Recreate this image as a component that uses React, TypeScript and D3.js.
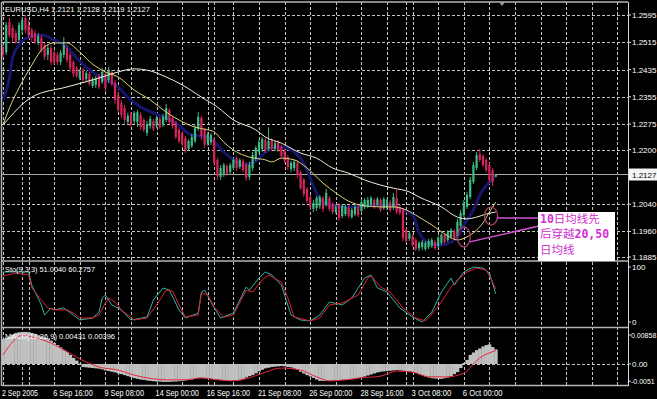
import React, { useEffect, useRef } from 'react';
import * as d3 from 'd3';

const W = 657;
const H = 399;

// EURUSD H4, one row per bar: open, high, low, close (2 Sep 2005 00:00 -> 7 Oct 2005 20:00)
const candles: number[][] = [
  [1.2498, 1.2507, 1.2469, 1.2478], [1.2486, 1.2574, 1.2478, 1.2566], [1.2574, 1.2586, 1.2528, 1.2536],
  [1.2557, 1.2566, 1.2516, 1.2528], [1.2542, 1.2551, 1.2510, 1.2516], [1.2522, 1.2574, 1.2516, 1.2566],
  [1.2551, 1.2589, 1.2536, 1.2580], [1.2586, 1.2595, 1.2542, 1.2551], [1.2566, 1.2580, 1.2528, 1.2536],
  [1.2551, 1.2557, 1.2516, 1.2528], [1.2542, 1.2551, 1.2510, 1.2516], [1.2516, 1.2542, 1.2507, 1.2533],
  [1.2528, 1.2536, 1.2486, 1.2492], [1.2507, 1.2513, 1.2463, 1.2472], [1.2478, 1.2507, 1.2463, 1.2498],
  [1.2498, 1.2507, 1.2448, 1.2457], [1.2484, 1.2492, 1.2451, 1.2457], [1.2478, 1.2486, 1.2448, 1.2457],
  [1.2457, 1.2492, 1.2448, 1.2484], [1.2478, 1.2530, 1.2469, 1.2507], [1.2498, 1.2507, 1.2454, 1.2463],
  [1.2478, 1.2486, 1.2428, 1.2440], [1.2457, 1.2463, 1.2413, 1.2422], [1.2440, 1.2445, 1.2410, 1.2416],
  [1.2410, 1.2437, 1.2404, 1.2431], [1.2434, 1.2440, 1.2396, 1.2404], [1.2407, 1.2431, 1.2401, 1.2425],
  [1.2422, 1.2428, 1.2387, 1.2393], [1.2387, 1.2413, 1.2381, 1.2407], [1.2390, 1.2416, 1.2381, 1.2410],
  [1.2416, 1.2422, 1.2378, 1.2384], [1.2398, 1.2440, 1.2393, 1.2428], [1.2422, 1.2428, 1.2369, 1.2381],
  [1.2404, 1.2442, 1.2396, 1.2431], [1.2428, 1.2434, 1.2387, 1.2393], [1.2396, 1.2404, 1.2334, 1.2346],
  [1.2360, 1.2369, 1.2310, 1.2316], [1.2337, 1.2346, 1.2293, 1.2302], [1.2322, 1.2331, 1.2275, 1.2287],
  [1.2281, 1.2308, 1.2275, 1.2299], [1.2305, 1.2310, 1.2266, 1.2272], [1.2284, 1.2313, 1.2275, 1.2308],
  [1.2281, 1.2316, 1.2266, 1.2310], [1.2302, 1.2310, 1.2258, 1.2266], [1.2287, 1.2293, 1.2252, 1.2258],
  [1.2249, 1.2284, 1.2240, 1.2275], [1.2269, 1.2299, 1.2261, 1.2290], [1.2284, 1.2290, 1.2255, 1.2261],
  [1.2269, 1.2299, 1.2263, 1.2293], [1.2290, 1.2296, 1.2261, 1.2266], [1.2272, 1.2305, 1.2266, 1.2296],
  [1.2287, 1.2334, 1.2281, 1.2322], [1.2316, 1.2322, 1.2275, 1.2281], [1.2293, 1.2299, 1.2261, 1.2269],
  [1.2278, 1.2284, 1.2231, 1.2237], [1.2258, 1.2263, 1.2219, 1.2225], [1.2246, 1.2252, 1.2211, 1.2217],
  [1.2234, 1.2240, 1.2190, 1.2199], [1.2202, 1.2231, 1.2196, 1.2225], [1.2211, 1.2246, 1.2205, 1.2237],
  [1.2225, 1.2272, 1.2219, 1.2263], [1.2261, 1.2310, 1.2255, 1.2296], [1.2293, 1.2299, 1.2228, 1.2240],
  [1.2258, 1.2263, 1.2205, 1.2214], [1.2217, 1.2252, 1.2211, 1.2246], [1.2222, 1.2249, 1.2214, 1.2243],
  [1.2228, 1.2237, 1.2152, 1.2161], [1.2170, 1.2175, 1.2111, 1.2123], [1.2120, 1.2155, 1.2111, 1.2146],
  [1.2129, 1.2161, 1.2120, 1.2155], [1.2152, 1.2158, 1.2123, 1.2129], [1.2134, 1.2161, 1.2126, 1.2155],
  [1.2146, 1.2175, 1.2140, 1.2170], [1.2175, 1.2181, 1.2137, 1.2146], [1.2149, 1.2175, 1.2143, 1.2170],
  [1.2167, 1.2173, 1.2134, 1.2140], [1.2155, 1.2164, 1.2108, 1.2117], [1.2120, 1.2164, 1.2111, 1.2155],
  [1.2146, 1.2193, 1.2137, 1.2184], [1.2175, 1.2211, 1.2167, 1.2205], [1.2193, 1.2231, 1.2187, 1.2222],
  [1.2202, 1.2237, 1.2193, 1.2231], [1.2228, 1.2234, 1.2190, 1.2199], [1.2202, 1.2266, 1.2196, 1.2225],
  [1.2225, 1.2234, 1.2196, 1.2202], [1.2202, 1.2225, 1.2196, 1.2219], [1.2222, 1.2228, 1.2193, 1.2199],
  [1.2208, 1.2214, 1.2175, 1.2181], [1.2196, 1.2202, 1.2161, 1.2167], [1.2178, 1.2184, 1.2140, 1.2149],
  [1.2143, 1.2167, 1.2134, 1.2161], [1.2146, 1.2170, 1.2137, 1.2164], [1.2161, 1.2167, 1.2117, 1.2126],
  [1.2134, 1.2140, 1.2082, 1.2087], [1.2111, 1.2117, 1.2061, 1.2070], [1.2085, 1.2090, 1.2043, 1.2049],
  [1.2061, 1.2067, 1.2023, 1.2032], [1.2026, 1.2052, 1.2017, 1.2043], [1.2029, 1.2064, 1.2020, 1.2058],
  [1.2035, 1.2067, 1.2026, 1.2061], [1.2058, 1.2064, 1.2017, 1.2026], [1.2038, 1.2085, 1.2032, 1.2073],
  [1.2058, 1.2064, 1.2020, 1.2026], [1.2041, 1.2046, 1.2011, 1.2017], [1.2017, 1.2038, 1.2011, 1.2032],
  [1.2038, 1.2043, 1.1991, 1.1999], [1.2005, 1.2041, 1.1999, 1.2035], [1.2011, 1.2038, 1.2005, 1.2032],
  [1.2029, 1.2035, 1.1999, 1.2005], [1.2002, 1.2029, 1.1997, 1.2023], [1.2011, 1.2038, 1.2005, 1.2032],
  [1.2032, 1.2038, 1.2002, 1.2008], [1.2020, 1.2052, 1.2014, 1.2046], [1.2032, 1.2058, 1.2026, 1.2052],
  [1.2035, 1.2061, 1.2029, 1.2052], [1.2038, 1.2064, 1.2032, 1.2058], [1.2052, 1.2058, 1.2026, 1.2032],
  [1.2038, 1.2061, 1.2032, 1.2055], [1.2052, 1.2058, 1.2017, 1.2023], [1.2029, 1.2061, 1.2023, 1.2055],
  [1.2029, 1.2058, 1.2023, 1.2052], [1.2046, 1.2052, 1.2017, 1.2023], [1.2032, 1.2073, 1.2023, 1.2061],
  [1.2058, 1.2082, 1.2011, 1.2017], [1.2032, 1.2038, 1.2008, 1.2014], [1.2023, 1.2029, 1.1932, 1.1941],
  [1.1964, 1.1970, 1.1926, 1.1932], [1.1938, 1.1961, 1.1932, 1.1955], [1.1947, 1.1952, 1.1914, 1.1920],
  [1.1935, 1.1941, 1.1903, 1.1908], [1.1911, 1.1932, 1.1903, 1.1926], [1.1914, 1.1935, 1.1906, 1.1929],
  [1.1908, 1.1932, 1.1903, 1.1926], [1.1914, 1.1938, 1.1908, 1.1932], [1.1917, 1.1941, 1.1911, 1.1935],
  [1.1929, 1.1935, 1.1906, 1.1911], [1.1917, 1.1947, 1.1911, 1.1941], [1.1926, 1.1955, 1.1920, 1.1950],
  [1.1950, 1.1955, 1.1923, 1.1929], [1.1935, 1.1964, 1.1929, 1.1958], [1.1944, 1.1970, 1.1938, 1.1964],
  [1.1961, 1.1967, 1.1935, 1.1941], [1.1947, 1.1997, 1.1941, 1.1988], [1.1976, 1.2023, 1.1970, 1.2014],
  [1.2008, 1.2052, 1.2002, 1.2043], [1.2032, 1.2076, 1.2026, 1.2067], [1.2061, 1.2120, 1.2055, 1.2111],
  [1.2105, 1.2164, 1.2099, 1.2155], [1.2146, 1.2193, 1.2140, 1.2184], [1.2187, 1.2202, 1.2164, 1.2170],
  [1.2181, 1.2187, 1.2149, 1.2155], [1.2170, 1.2175, 1.2134, 1.2140], [1.2155, 1.2161, 1.2102, 1.2111],
  [1.2140, 1.2146, 1.2093, 1.2105], [1.2121, 1.2128, 1.2119, 1.2127],
];

const timeLabels = [
  '2 Sep 2005', '6 Sep 16:00', '9 Sep 08:00', '14 Sep 00:00', '16 Sep 16:00',
  '21 Sep 08:00', '26 Sep 00:00', '28 Sep 16:00', '3 Oct 08:00', '6 Oct 00:00',
];
const barsPerLabel = 16;
const weekStarts = [6, 36, 66, 96, 126];

const priceTicks = [1.2595, 1.2515, 1.2435, 1.2355, 1.2275, 1.22, 1.204, 1.196, 1.1885];
const lastPrice = 1.2127;

// moving averages, [bar, price]
const ma10: number[][] = [
  [0, 1.2346], [2, 1.2410], [3, 1.2469], [5, 1.2507], [8, 1.2530], [12, 1.2536], [16, 1.2522],
  [20, 1.2501], [23, 1.2469], [27, 1.2434], [31, 1.2410], [36, 1.2384], [39, 1.2354], [43, 1.2325],
  [47, 1.2308], [54, 1.2278], [59, 1.2243], [64, 1.2237], [66, 1.2222], [69, 1.2193], [72, 1.2170],
  [75, 1.2155], [78, 1.2161], [81, 1.2184], [84, 1.2205], [87, 1.2208], [91, 1.2193], [93, 1.2175],
  [95, 1.2140], [97, 1.2093], [99, 1.2055], [102, 1.2038], [107, 1.2032], [111, 1.2032],
  [116, 1.2038], [121, 1.2035], [125, 1.2023], [128, 1.2008], [130, 1.1958], [133, 1.1926],
  [137, 1.1920], [140, 1.1929], [142, 1.1944], [144, 1.1979], [147, 1.2023], [149, 1.2067],
  [152, 1.2105], [154, 1.2126],
];
const ma20: number[][] = [
  [0, 1.2272], [2, 1.2322], [5, 1.2381], [9, 1.2448], [12, 1.2492], [16, 1.2513], [20, 1.2513],
  [24, 1.2486], [28, 1.2451], [32, 1.2428], [36, 1.2413], [41, 1.2375], [46, 1.2346], [51, 1.2310],
  [55, 1.2287], [60, 1.2266], [64, 1.2258], [66, 1.2252], [69, 1.2222], [72, 1.2199], [77, 1.2178],
  [82, 1.2170], [84, 1.2164], [87, 1.2175], [91, 1.2170], [95, 1.2146], [100, 1.2102], [104, 1.2073],
  [108, 1.2049], [113, 1.2035], [118, 1.2032], [122, 1.2032], [126, 1.2023], [130, 1.2002],
  [134, 1.1979], [139, 1.1947], [142, 1.1935], [145, 1.1944], [148, 1.1964], [150, 1.1985],
  [152, 1.2017], [154, 1.2046],
];
const ma50: number[][] = [
  [0, 1.2272], [9, 1.2354], [20, 1.2384], [30, 1.2410], [36, 1.2428], [41, 1.2437], [46, 1.2431],
  [51, 1.2413], [56, 1.2390], [62, 1.2354], [67, 1.2325], [72, 1.2287], [79, 1.2258], [82, 1.2237],
  [87, 1.2219], [93, 1.2190], [98, 1.2175], [103, 1.2146], [108, 1.2131], [113, 1.2111],
  [118, 1.2096], [122, 1.2087], [127, 1.2076], [130, 1.2061], [137, 1.2032], [142, 1.2002],
  [145, 1.1997], [148, 1.2002], [151, 1.2011], [154, 1.2017],
];

// Stochastic(9,3,3), [bar, value]
const stochK: number[][] = [
  [0, 91], [4, 91], [8, 91], [9, 67], [12, 31], [13, 12.7], [15, 25.5], [16, 22], [19, 25.5],
  [22, 12.7], [24, 3.6], [28, 7.3], [30, 18], [31, 43.6], [32, 49], [34, 31], [37, 21.8], [40, 3.6],
  [45, 9], [47, 40], [50, 61.8], [52, 58], [55, 21.8], [57, 7.3], [61, 16.4], [62, 54.5], [63, 58],
  [66, 25.5], [68, 7.3], [72, 16.4], [76, 63.6], [77, 58], [80, 80], [82, 91], [84, 85.5], [87, 67],
  [90, 12.7], [93, 3.6], [96, 2], [99, 12.7], [102, 36.4], [106, 31], [109, 43.6], [113, 80],
  [115, 85.5], [117, 62], [120, 54.5], [124, 25.5], [128, 9], [131, 0], [134, 18], [137, 54.5],
  [140, 80], [141, 67], [144, 91], [147, 100], [150, 98], [152, 89], [154, 51.0],
];
const stochD: number[][] = [
  [0, 83.6], [4, 89], [8, 85.5], [9, 62], [12, 40], [14, 25.5], [16, 22], [20, 22], [22, 16.4],
  [24, 7.3], [28, 7.3], [30, 12.7], [32, 34.5], [33, 43.6], [35, 36.4], [37, 21.8], [41, 3.6],
  [45, 7.3], [48, 31], [51, 58], [53, 56.4], [55, 31], [57, 9], [61, 12.7], [62, 52.7], [64, 49],
  [66, 27.3], [69, 9], [72, 12.7], [76, 58], [78, 54.5], [81, 76.4], [83, 85.5], [87, 72.7],
  [89, 43.6], [91, 9], [96, 2], [99, 7.3], [102, 31], [106, 34.5], [111, 49], [114, 80], [115, 83.6],
  [118, 63.6], [121, 54.5], [125, 25.5], [129, 7.3], [132, 2], [133, 7.3], [137, 36.4], [140, 63.6],
  [142, 76.4], [145, 91], [148, 98], [151, 94.5], [153, 72.7], [154, 60.3],
];

// MACD(12,26,9): main histogram per bar, signal line [bar, value]
const macdHist = [
  0.0074, 0.0077, 0.0081, 0.0087, 0.0092, 0.0094, 0.0095, 0.0095, 0.0094, 0.0092,
  0.0089, 0.0085, 0.0082, 0.0079, 0.0075, 0.0069, 0.0062, 0.0056, 0.0049, 0.0042,
  0.0036, 0.0027, 0.0018, 0.0010, 0.0001, -0.0009, -0.0010, -0.0011, -0.0012, -0.0013,
  -0.0014, -0.0016, -0.0019, -0.0021, -0.0023, -0.0025, -0.0028, -0.0030, -0.0033, -0.0036,
  -0.0039, -0.0042, -0.0044, -0.0046, -0.0047, -0.0049, -0.0050, -0.0051, -0.0052, -0.0052,
  -0.0053, -0.0053, -0.0053, -0.0052, -0.0052, -0.0051, -0.0050, -0.0049, -0.0047, -0.0046,
  -0.0044, -0.0042, -0.0042, -0.0043, -0.0043, -0.0044, -0.0045, -0.0046, -0.0047, -0.0049,
  -0.0050, -0.0050, -0.0049, -0.0048, -0.0047, -0.0044, -0.0040, -0.0036, -0.0033, -0.0028,
  -0.0022, -0.0017, -0.0013, -0.0011, -0.0009, -0.0008, -0.0007, -0.0006, -0.0007, -0.0009,
  -0.0010, -0.0014, -0.0018, -0.0023, -0.0028, -0.0033, -0.0037, -0.0041, -0.0046, -0.0050,
  -0.0050, -0.0050, -0.0050, -0.0049, -0.0048, -0.0048, -0.0047, -0.0047, -0.0047, -0.0045,
  -0.0043, -0.0041, -0.0039, -0.0037, -0.0034, -0.0031, -0.0028, -0.0025, -0.0023, -0.0022,
  -0.0021, -0.0020, -0.0019, -0.0018, -0.0019, -0.0020, -0.0021, -0.0022, -0.0024, -0.0027,
  -0.0030, -0.0033, -0.0037, -0.0040, -0.0042, -0.0043, -0.0044, -0.0044, -0.0042, -0.0040,
  -0.0037, -0.0030, -0.0024, -0.0012, 0.0003, 0.0012, 0.0027, 0.0034, 0.0041, 0.0046,
  0.0052, 0.0056, 0.0058, 0.0050, 0.00431,
];
const macdSignal: number[][] = [
  [0, 0.0027], [3, 0.0065], [6, 0.0086], [9, 0.0080], [15, 0.0062], [20, 0.0036], [26, 0.0006],
  [30, -0.0009], [36, -0.0018], [41, -0.0033], [47, -0.0044], [51, -0.0047], [57, -0.0047],
  [62, -0.0041], [67, -0.0047], [72, -0.0050], [78, -0.0038], [82, -0.0024], [87, -0.0012],
  [93, -0.0018], [98, -0.0038], [102, -0.0050], [107, -0.0047], [112, -0.0041], [118, -0.0036],
  [123, -0.0021], [128, -0.0024], [133, -0.0038], [139, -0.0038], [144, -0.0027], [149, 0.0018],
  [154, 0.00396],
];
const macdTicks = [0.00858, 0, -0.0051];
const macdTickText = ['0.00858', '0.00', '-0.0051'];

const FONT = '"Liberation Sans", Arial, sans-serif';

export default function App() {
  const ref = useRef<SVGSVGElement>(null);

  useEffect(() => {
    const svg = d3.select(ref.current);
    svg.selectAll('*').remove();

    const left = 2, right = 628;
    const main = { top: 2, bottom: 260 };
    const sto = { top: 262, bottom: 327 };
    const mac = { top: 329, bottom: 385 };

    const x = d3.scaleLinear().domain([0, candles.length - 1]).range([3, 495.8]);
    const step = x(1) - x(0);
    const yMain = d3.scaleLinear().domain([1.1885, 1.2595]).range([257, 15]);
    const yStoch = d3.scaleLinear().domain([0, 100]).range([322, 267]);
    const yMacd = d3.scaleLinear().domain([-0.0051, 0.00858]).range([381.2, 335]);

    svg.append('rect').attr('width', W).attr('height', H).attr('fill', '#000');

    const defs = svg.append('defs');
    [['clipMain', main], ['clipSto', sto], ['clipMacd', mac]].forEach(([id, p]: any) => {
      defs.append('clipPath').attr('id', id)
        .append('rect').attr('x', left).attr('y', p.top).attr('width', right - left).attr('height', p.bottom - p.top);
    });

    // vertical grid, all three windows
    const gridBars = d3.range(0, 200, 8).filter((b) => x(b) < right - 2).concat(weekStarts);
    const grid = svg.append('g').attr('stroke', '#c4c4c4').attr('stroke-dasharray', '3,2').attr('stroke-width', 1);
    gridBars.forEach((b) => {
      const gx = Math.round(x(b)) + 0.5;
      grid.append('line').attr('x1', gx).attr('x2', gx).attr('y1', main.top).attr('y2', mac.bottom);
    });
    // horizontal grid main window
    priceTicks.forEach((p) => {
      const gy = Math.round(yMain(p)) + 0.5;
      grid.append('line').attr('x1', left).attr('x2', right).attr('y1', gy).attr('y2', gy);
    });
    grid.append('line').attr('x1', left).attr('x2', right)
      .attr('y1', Math.round(yMacd(0)) + 0.5).attr('y2', Math.round(yMacd(0)) + 0.5);

    // main window
    const gMain = svg.append('g').attr('clip-path', 'url(#clipMain)');
    gMain.append('line').attr('x1', left).attr('x2', right)
      .attr('y1', yMain(lastPrice)).attr('y2', yMain(lastPrice))
      .attr('stroke', '#a8a8a8').attr('stroke-width', 1);

    const maLine = d3.line<number[]>().x((d) => x(d[0])).y((d) => yMain(d[1])).curve(d3.curveMonotoneX);
    gMain.append('path').attr('d', maLine(ma10)).attr('fill', 'none')
      .attr('stroke', '#16166e').attr('stroke-width', 3);

    const bull = '#3dbb82';
    const bear = '#d8255c';
    candles.forEach((c, i) => {
      const [o, h, l, cl] = c;
      const col = cl >= o ? bull : bear;
      const cx = x(i);
      gMain.append('line').attr('x1', cx).attr('x2', cx)
        .attr('y1', yMain(h)).attr('y2', yMain(l)).attr('stroke', col).attr('stroke-width', 1);
      const y0 = yMain(Math.max(o, cl));
      const y1 = yMain(Math.min(o, cl));
      gMain.append('rect').attr('x', cx - 1.1).attr('width', 2.2)
        .attr('y', y0).attr('height', Math.max(1, y1 - y0)).attr('fill', col);
    });

    gMain.append('path').attr('d', maLine(ma50)).attr('fill', 'none')
      .attr('stroke', '#f2f0d8').attr('stroke-width', 1);
    gMain.append('path').attr('d', maLine(ma20)).attr('fill', 'none')
      .attr('stroke', '#dcd47a').attr('stroke-width', 1);

    svg.append('text').attr('x', 5).attr('y', 12).attr('fill', '#fff')
      .attr('font-family', FONT).attr('font-size', 8)
      .attr('textLength', 145).attr('lengthAdjust', 'spacingAndGlyphs')
      .text('EURUSD,H4  1.2121 1.2128 1.2119 1.2127');

    // stochastic window
    const gSto = svg.append('g').attr('clip-path', 'url(#clipSto)');
    const stoLine = d3.line<number[]>().x((d) => x(d[0])).y((d) => yStoch(d[1]));
    gSto.append('path').attr('d', stoLine(stochK)).attr('fill', 'none').attr('stroke', '#2fb3a8').attr('stroke-width', 1);
    gSto.append('path').attr('d', stoLine(stochD)).attr('fill', 'none').attr('stroke', '#e0202e').attr('stroke-width', 1);
    svg.append('text').attr('x', 5).attr('y', 272).attr('fill', '#fff')
      .attr('font-family', FONT).attr('font-size', 8)
      .attr('textLength', 90).attr('lengthAdjust', 'spacingAndGlyphs')
      .text('Sto(9,3,3) 51.0040 60.2757');

    // MACD window
    const gMacd = svg.append('g').attr('clip-path', 'url(#clipMacd)');
    const y0m = yMacd(0);
    macdHist.forEach((v, i) => {
      const yv = yMacd(v);
      gMacd.append('rect').attr('x', x(i) - step / 2).attr('width', step + 0.3)
        .attr('y', Math.min(yv, y0m)).attr('height', Math.abs(yv - y0m)).attr('fill', '#c0c0c0');
    });
    const sigLine = d3.line<number[]>().x((d) => x(d[0])).y((d) => yMacd(d[1])).curve(d3.curveMonotoneX);
    gMacd.append('path').attr('d', sigLine(macdSignal)).attr('fill', 'none').attr('stroke', '#e8283c').attr('stroke-width', 1);
    svg.append('text').attr('x', 5).attr('y', 339).attr('fill', '#fff')
      .attr('font-family', FONT).attr('font-size', 8)
      .attr('textLength', 110).attr('lengthAdjust', 'spacingAndGlyphs')
      .text('MACD(12,26,9) 0.00431 0.00396');

    // frames and separators
    const frame = svg.append('g').attr('stroke', '#b4b4b4').attr('stroke-width', 1.5);
    [2, 261, 327.5, 385.5].forEach((sy) => {
      frame.append('line').attr('x1', left).attr('x2', right).attr('y1', sy).attr('y2', sy);
    });
    frame.append('line').attr('x1', 1.5).attr('x2', 1.5).attr('y1', 2).attr('y2', 386);
    svg.append('line').attr('x1', right + 0.5).attr('x2', right + 0.5).attr('y1', 2).attr('y2', 386)
      .attr('stroke', '#d8d8d8').attr('stroke-width', 1);

    // chart shift marker
    svg.append('path').attr('d', 'M499,2 L505,2 L502,6 Z').attr('fill', '#9a9a9a');

    // right axis labels
    const axis = svg.append('g').attr('font-family', FONT).attr('font-size', 8).attr('fill', '#fff');
    const tick = (ty: number) => svg.append('line').attr('x1', right).attr('x2', right + 3)
      .attr('y1', ty).attr('y2', ty).attr('stroke', '#d8d8d8');
    priceTicks.forEach((p) => {
      tick(yMain(p));
      axis.append('text').attr('x', 632).attr('y', yMain(p) + 3).text(p.toFixed(4));
    });
    [100, 0].forEach((v) => {
      tick(yStoch(v));
      axis.append('text').attr('x', 632).attr('y', yStoch(v) + 3).text(String(v));
    });
    macdTicks.forEach((v, i) => {
      tick(yMacd(v));
      const long = macdTickText[i].length > 5;
      axis.append('text').attr('x', long ? 631 : 632).attr('y', yMacd(v) + 3)
        .attr('font-size', long ? 7 : 8).text(macdTickText[i]);
    });
    const ly = yMain(lastPrice);
    svg.append('rect').attr('x', 629).attr('y', ly - 6).attr('width', 28).attr('height', 12).attr('fill', '#f4f4f4');
    svg.append('text').attr('x', 632).attr('y', ly + 3).attr('fill', '#000')
      .attr('font-family', FONT).attr('font-size', 8).text(lastPrice.toFixed(4));

    // time labels
    timeLabels.forEach((t, k) => {
      svg.append('text').attr('x', x(k * barsPerLabel) - 1).attr('y', 396).attr('fill', '#fff')
        .attr('font-family', FONT).attr('font-size', 9)
        .attr('textLength', t.length * 3.6).attr('lengthAdjust', 'spacingAndGlyphs')
        .text(t);
    });

    // annotation: circles, pointers and the note
    const note = svg.append('g');
    const c1 = [x(144), yMain(1.1944)];
    const c2 = [x(152.5), yMain(1.2005)];
    note.append('ellipse').attr('cx', c1[0]).attr('cy', c1[1]).attr('rx', 6.5).attr('ry', 10)
      .attr('fill', 'none').attr('stroke', '#a8405e').attr('stroke-width', 1.3);
    note.append('ellipse').attr('cx', c2[0]).attr('cy', c2[1]).attr('rx', 6.5).attr('ry', 9)
      .attr('fill', 'none').attr('stroke', '#a8405e').attr('stroke-width', 1.3);
    note.append('line').attr('x1', c2[0] + 6).attr('y1', c2[1] + 2).attr('x2', 539).attr('y2', c2[1] + 2)
      .attr('stroke', '#d050d0').attr('stroke-width', 1.5);
    note.append('line').attr('x1', c1[0] + 6).attr('y1', c1[1] + 5).attr('x2', 539).attr('y2', 226)
      .attr('stroke', '#d050d0').attr('stroke-width', 1.5);
    note.append('rect').attr('x', 538).attr('y', 212).attr('width', 77).attr('height', 49).attr('fill', '#fff');

    const lines: [string, string, boolean][][] = [
      [['10', 'mono', true], ['日均线先', 'cjk', false]],
      [['后穿越', 'cjk', false], ['20,50', 'mono', true]],
      [['日均线', 'cjk', false]],
    ] as any;
    lines.forEach((parts, li) => {
      const t = note.append('text').attr('x', 540).attr('y', 223 + li * 15.3)
        .attr('fill', '#d030d0').attr('font-size', 11);
      parts.forEach(([s, kind, bold]) => {
        t.append('tspan')
          .attr('font-family', kind === 'mono' ? '"DejaVu Sans Mono", monospace' : '"Noto Sans CJK SC", sans-serif')
          .attr('font-weight', bold ? 'bold' : 'normal')
          .attr('font-size', kind === 'mono' ? 11.5 : 11.5)
          .text(s);
      });
    });
  }, []);

  return (
    <div style={{ width: W, height: H, background: '#000' }}>
      <style>{'body{margin:0;background:#000}'}</style>
      <svg ref={ref} width={W} height={H} style={{ display: 'block' }} />
    </div>
  );
}
